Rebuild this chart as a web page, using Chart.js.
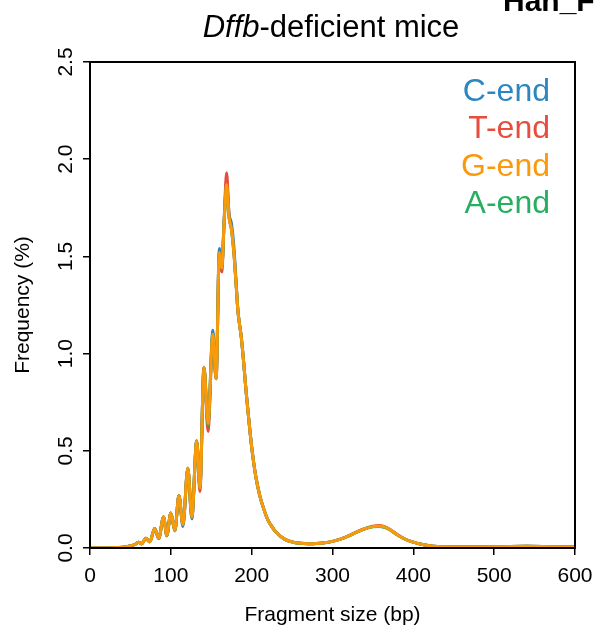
<!DOCTYPE html>
<html>
<head>
<meta charset="utf-8">
<script src="https://cdn.jsdelivr.net/npm/chart.js@4.4.1/dist/chart.umd.min.js"></script>
<style>
  html, body { margin: 0; padding: 0; background: #ffffff; }
  #wrap { width: 596px; height: 626px; position: relative; }
</style>
</head>
<body>
<div id="wrap"><canvas id="c" width="596" height="626"></canvas></div>
<script>
// Fragment size (bp)
const sizes = [0, 20, 35, 45, 50, 55, 60, 64, 69, 74, 80, 85, 91, 95, 100, 105, 110, 115, 121, 126, 132, 136, 141, 146, 152, 156, 160, 163, 166, 169, 172, 175, 178, 181, 183, 185, 187, 190, 193, 196, 200, 205, 210, 215, 220, 225, 230, 240, 250, 260, 270, 280, 290, 300, 310, 320, 330, 340, 350, 357, 365, 372, 380, 390, 400, 410, 420, 430, 440, 460, 480, 500, 520, 540, 560, 580, 600];

// Frequency (%) per fragment end base
const cEnd = [0, 0, 0.002, 0.006, 0.011, 0.017, 0.03, 0.021, 0.05, 0.031, 0.10, 0.048, 0.16, 0.062, 0.18, 0.088, 0.27, 0.11, 0.41, 0.15, 0.55, 0.31, 0.93, 0.64, 1.12, 0.87, 1.54, 1.44, 1.69, 1.89, 1.72, 1.67, 1.55, 1.35, 1.22, 1.15, 1.09, 0.96, 0.81, 0.68, 0.52, 0.37, 0.27, 0.20, 0.145, 0.11, 0.082, 0.047, 0.031, 0.024, 0.022, 0.023, 0.027, 0.034, 0.046, 0.062, 0.082, 0.099, 0.110, 0.112, 0.107, 0.092, 0.068, 0.045, 0.030, 0.019, 0.012, 0.008, 0.006, 0.005, 0.005, 0.006, 0.008, 0.009, 0.008, 0.006, 0.005];
const tEnd = [0, 0, 0.002, 0.006, 0.011, 0.017, 0.03, 0.022, 0.05, 0.032, 0.10, 0.05, 0.16, 0.065, 0.18, 0.09, 0.27, 0.12, 0.41, 0.16, 0.55, 0.29, 0.93, 0.60, 1.09, 0.87, 1.52, 1.42, 1.69, 1.93, 1.71, 1.64, 1.52, 1.34, 1.22, 1.15, 1.09, 0.96, 0.81, 0.68, 0.52, 0.37, 0.27, 0.20, 0.145, 0.11, 0.082, 0.047, 0.031, 0.024, 0.022, 0.023, 0.027, 0.034, 0.046, 0.062, 0.083, 0.100, 0.112, 0.116, 0.109, 0.093, 0.069, 0.045, 0.030, 0.019, 0.012, 0.008, 0.006, 0.005, 0.005, 0.006, 0.008, 0.009, 0.008, 0.006, 0.005];
const gEnd = [0, 0, 0.002, 0.006, 0.011, 0.017, 0.03, 0.022, 0.05, 0.032, 0.10, 0.05, 0.16, 0.065, 0.18, 0.09, 0.27, 0.12, 0.41, 0.16, 0.55, 0.31, 0.93, 0.64, 1.10, 0.87, 1.52, 1.44, 1.68, 1.87, 1.70, 1.64, 1.52, 1.34, 1.22, 1.15, 1.09, 0.96, 0.81, 0.68, 0.52, 0.37, 0.27, 0.20, 0.145, 0.11, 0.082, 0.047, 0.031, 0.024, 0.022, 0.023, 0.027, 0.034, 0.046, 0.062, 0.082, 0.099, 0.110, 0.113, 0.107, 0.092, 0.068, 0.045, 0.030, 0.019, 0.012, 0.008, 0.006, 0.005, 0.005, 0.006, 0.008, 0.009, 0.008, 0.006, 0.005];
const aEnd = [0, 0, 0.002, 0.006, 0.011, 0.017, 0.03, 0.022, 0.05, 0.032, 0.10, 0.05, 0.16, 0.065, 0.18, 0.09, 0.27, 0.12, 0.41, 0.16, 0.55, 0.31, 0.93, 0.63, 1.10, 0.87, 1.52, 1.44, 1.68, 1.86, 1.70, 1.64, 1.52, 1.34, 1.22, 1.15, 1.09, 0.96, 0.81, 0.68, 0.52, 0.37, 0.27, 0.20, 0.145, 0.11, 0.082, 0.047, 0.031, 0.024, 0.022, 0.023, 0.027, 0.034, 0.046, 0.062, 0.082, 0.099, 0.109, 0.110, 0.105, 0.091, 0.068, 0.045, 0.030, 0.019, 0.012, 0.008, 0.006, 0.005, 0.005, 0.006, 0.008, 0.009, 0.008, 0.006, 0.005];

const seriesNames = ['C-end', 'T-end', 'G-end', 'A-end'];
const seriesColors = ['#2E86C1', '#E74C3C', '#FA9A0A', '#27AE60'];
const xTicks = [0, 100, 200, 300, 400, 500, 600];
const yTicks = [0, 0.5, 1, 1.5, 2, 2.5];

const FONT = '"Liberation Sans", Arial, Helvetica, sans-serif';

function pts(vals) { return sizes.map((x, i) => ({ x: x, y: vals[i] })); }

const allVals = [cEnd, tEnd, gEnd, aEnd];
const drawOrder = [3, 2, 0, 1]; // G on top, then A, T, C
const datasets = allVals.map((v, i) => ({
  label: seriesNames[i],
  data: pts(v),
  borderColor: seriesColors[i],
  borderWidth: 3,
  pointRadius: 0,
  fill: false,
  cubicInterpolationMode: 'monotone',
  order: drawOrder[i]
}));

const decor = {
  id: 'decor',
  afterDraw(chart) {
    const ctx = chart.ctx;
    const a = chart.chartArea;
    const ys = chart.scales.y;
    ctx.save();
    // box
    ctx.strokeStyle = '#000';
    ctx.lineWidth = 2;
    ctx.strokeRect(a.left, a.top, a.right - a.left, a.bottom - a.top);

    // y tick labels (rotated, R style)
    ctx.fillStyle = '#000';
    ctx.font = '21px ' + FONT;
    ctx.textAlign = 'center';
    ctx.textBaseline = 'middle';
    yTicks.forEach(v => {
      const py = ys.getPixelForValue(v);
      ctx.save();
      ctx.translate(66, py);
      ctx.rotate(-Math.PI / 2);
      ctx.fillText(v.toFixed(1), 0, 0);
      ctx.restore();
    });

    // axis titles
    ctx.font = '21px ' + FONT;
    ctx.fillText('Fragment size (bp)', (a.left + a.right) / 2, 615);
    ctx.save();
    ctx.translate(23, (a.top + a.bottom) / 2);
    ctx.rotate(-Math.PI / 2);
    ctx.fillText('Frequency (%)', 0, 0);
    ctx.restore();

    // main title with italic gene name
    ctx.textBaseline = 'alphabetic';
    ctx.textAlign = 'left';
    const t1 = 'Dffb', t2 = '-deficient mice';
    ctx.font = 'italic 31px ' + FONT;
    const w1 = ctx.measureText(t1).width;
    ctx.font = '31px ' + FONT;
    const w2 = ctx.measureText(t2).width;
    const x0 = 331 - (w1 + w2) / 2;
    ctx.font = 'italic 31px ' + FONT;
    ctx.fillText(t1, x0, 36.5);
    ctx.font = '31px ' + FONT;
    ctx.fillText(t2, x0 + w1, 36.5);

    // corner panel label
    ctx.font = 'bold 30px ' + FONT;
    ctx.fillText('Han_F', 503, 11);

    // legend text
    ctx.font = '32px ' + FONT;
    ctx.textAlign = 'right';
    ctx.textBaseline = 'middle';
    const legY = [92, 129.5, 167, 204.5];
    seriesNames.forEach((n, i) => {
      ctx.fillStyle = seriesColors[i];
      ctx.fillText(n, 550, legY[i]);
    });
    ctx.restore();
  }
};

new Chart(document.getElementById('c'), {
  type: 'line',
  data: { datasets: datasets },
  options: {
    responsive: false,
    animation: false,
    devicePixelRatio: 1,
    layout: { padding: { top: 62, right: 21, left: 0, bottom: 0 } },
    plugins: { legend: { display: false }, tooltip: { enabled: false }, title: { display: false } },
    scales: {
      x: {
        type: 'linear',
        min: 0, max: 600,
        afterBuildTicks: s => { s.ticks = xTicks.map(v => ({ value: v })); },
        afterFit: s => { s.height = 78; s.paddingLeft = 0; s.paddingRight = 0; },
        border: { display: false },
        grid: { display: true, drawOnChartArea: false, drawTicks: true, tickLength: 7, color: '#000', lineWidth: 1.5 },
        ticks: { color: '#000', font: { family: FONT, size: 21 }, padding: 9, maxRotation: 0, autoSkip: false,
                 callback: v => String(v) }
      },
      y: {
        type: 'linear',
        min: 0, max: 2.5,
        afterBuildTicks: s => { s.ticks = yTicks.map(v => ({ value: v })); },
        afterFit: s => { s.width = 90; s.paddingTop = 0; s.paddingBottom = 0; },
        border: { display: false },
        grid: { display: true, drawOnChartArea: false, drawTicks: true, tickLength: 7, color: '#000', lineWidth: 1.5 },
        ticks: { display: false }
      }
    }
  },
  plugins: [decor]
});
</script>
</body>
</html>
